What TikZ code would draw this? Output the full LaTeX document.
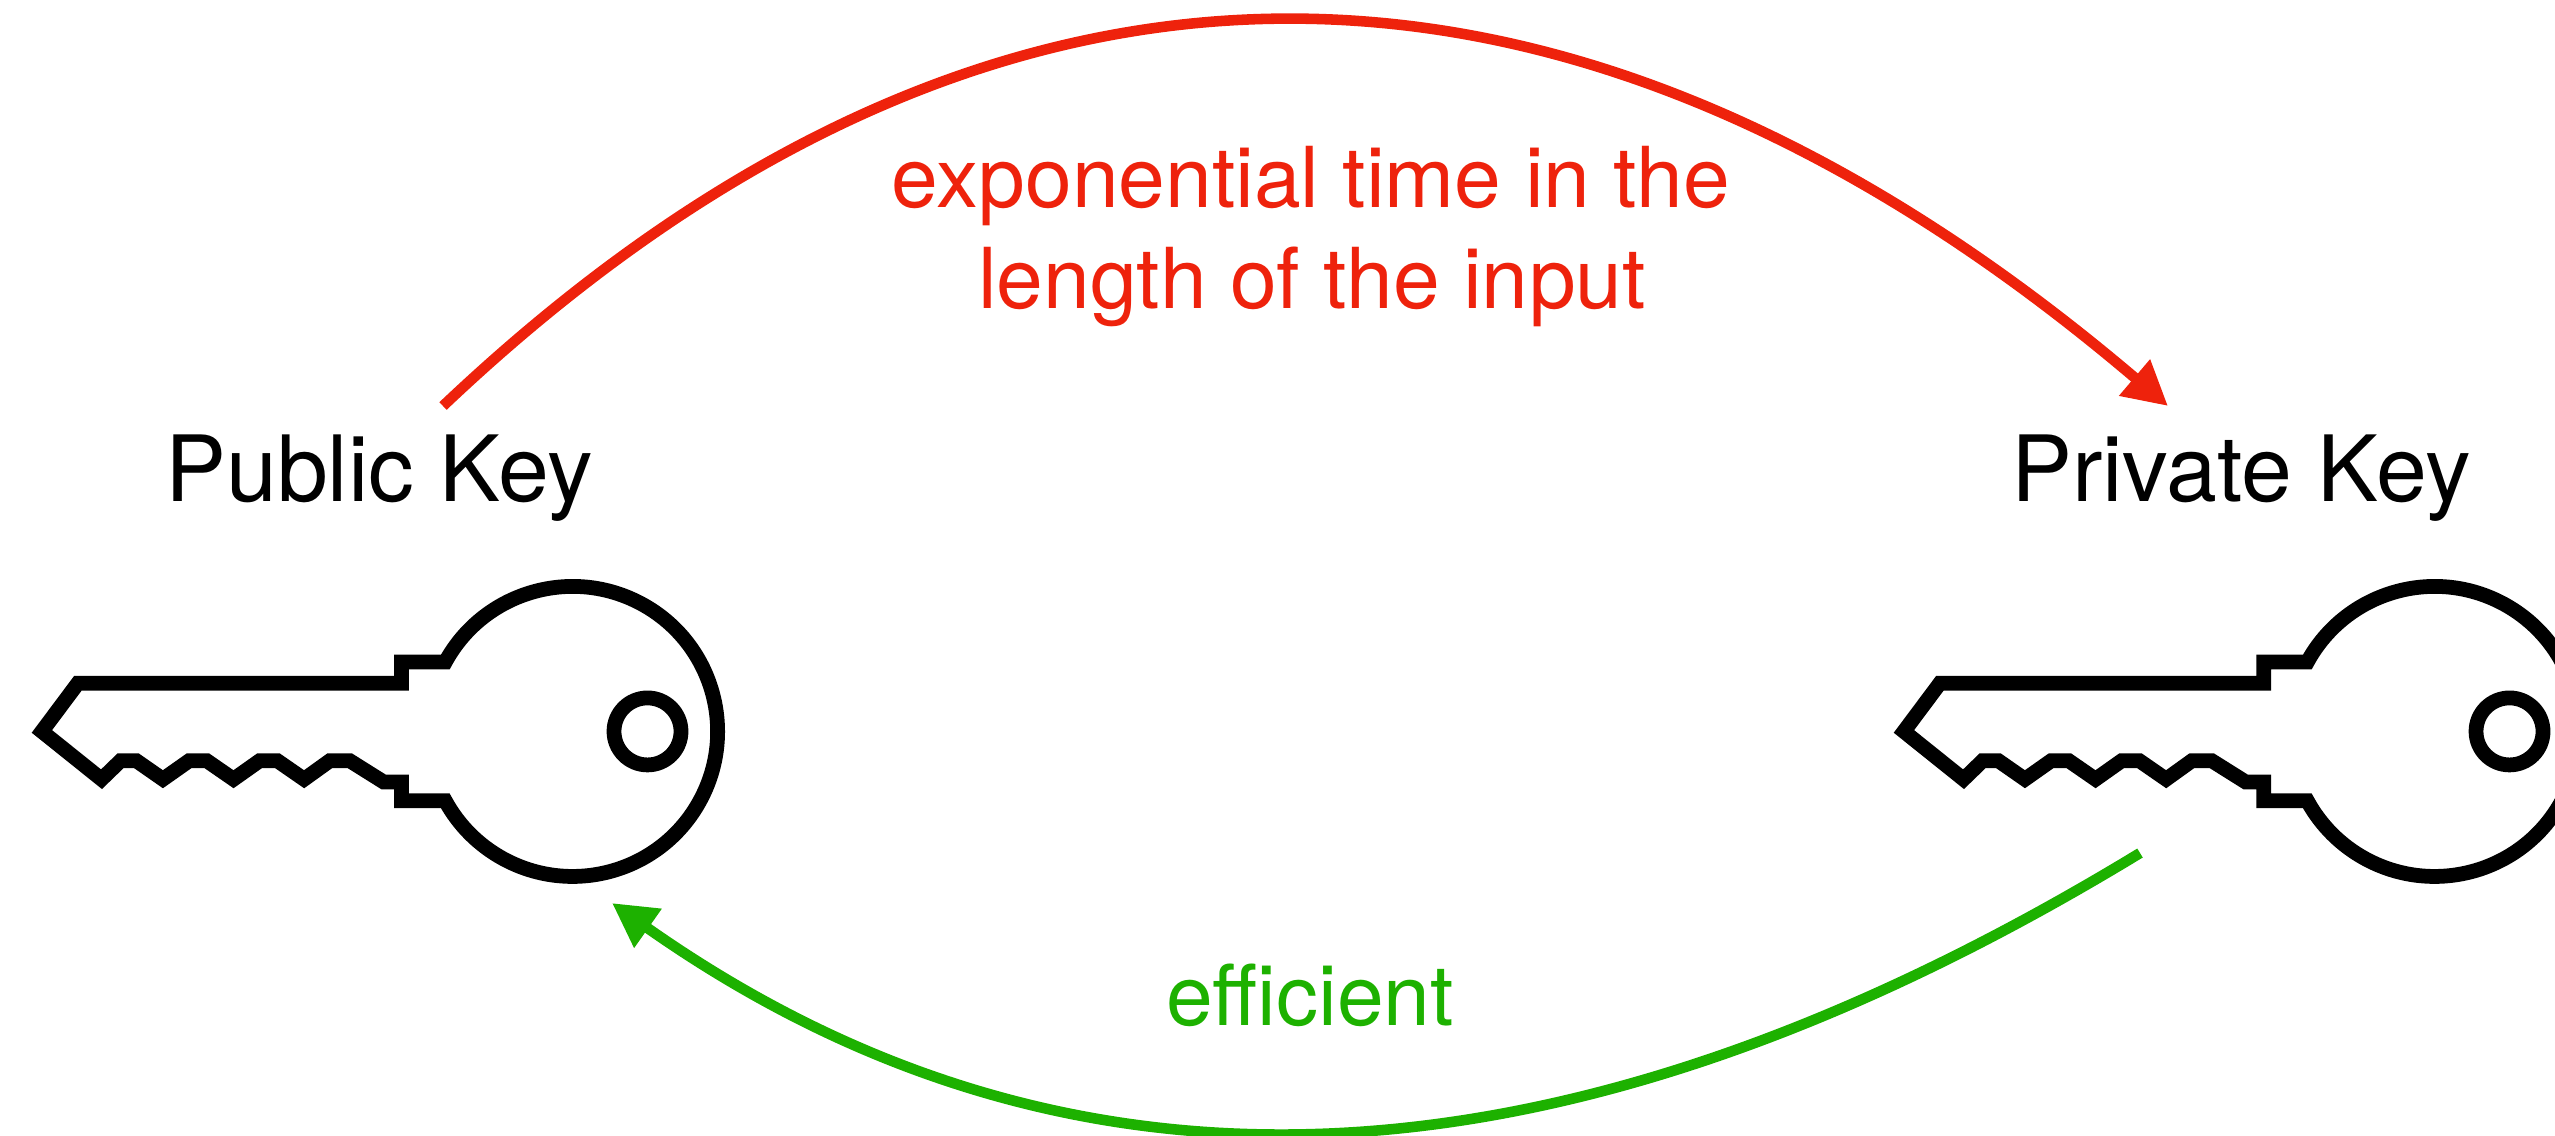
\documentclass[tikz,border=0pt]{standalone}
\usepackage{fontspec}
\setmainfont{TeX Gyre Heros}
\usetikzlibrary{arrows.meta}
\definecolor{hardred}{HTML}{EE220C}
\definecolor{easygreen}{HTML}{1DB100}
\tikzset{
  keyline/.style={line width=4.2pt,draw=black},
  keylabel/.style={font=\fontsize{26}{31}\selectfont,anchor=base,inner sep=0pt},
  arrowlabel/.style={font=\fontsize{23.9}{29}\selectfont,anchor=base,inner sep=0pt},
  hardarrow/.style={line width=3pt,draw=hardred,-{Triangle[length=4.4mm,width=4.5mm]}},
  easyarrow/.style={line width=3pt,draw=easygreen,-{Triangle[length=4.4mm,width=4.5mm]}}
}
% key outline, centre of the bow at #1
\newcommand{\drawkey}[1]{
  \draw[keyline,shift={(#1)}]
    (-530.6,0) -- (-494.6,-48.2) -- (-170.9,-48.2) -- (-170.9,-69.4) -- (-127.2,-69.4)
    arc[start angle=208.6,end angle=511.4,radius=145]
    -- (-170.9,69.4) -- (-170.9,50.6) -- (-188.8,50.6) -- (-222.6,29.4) -- (-242.8,29.4)
    -- (-268.4,47.8) -- (-295,29.4) -- (-313,29.4) -- (-339,47.8) -- (-365.6,29.4)
    -- (-383.5,29.4) -- (-409.6,47.8) -- (-436,29.4) -- (-452,29.4) -- (-471,47.8) -- cycle;
  \draw[keyline,shift={(#1)}] (75,0) circle[radius=33.5];
}
\begin{document}
\begin{tikzpicture}[x=0.01cm,y=-0.01cm]
\clip (0,0) rectangle (2555,1135);

% --- Keys ---
\drawkey{572.5,731.4}
\drawkey{2434.5,731.4}

% --- Labels ---
\node[keylabel] (publiclabel) at (379,501) {Public Key};
\node[keylabel] (privatelabel) at (2241,501) {Private Key};
\node[arrowlabel,text=hardred] (hardtopline) at (1311,207) {exponential time in the};
\node[arrowlabel,text=hardred] (hardbottomline) at (1312,308) {length of the input};
\node[arrowlabel,text=easygreen] (easylabel) at (1310,1025) {efficient};

% --- Arrow ends ---
\coordinate (publictop) at (443,406);
\coordinate (privatetop) at (2168,406);
\coordinate (privatebottom) at (2140,853);
\coordinate (publicbottom) at (612,903);

% --- Arrows ---
\draw[hardarrow] (publictop) .. controls (983,-106) and (1566,-106) .. (privatetop);
\draw[easyarrow] (privatebottom) .. controls (1545,1215) and (1055,1215) .. (publicbottom);

\end{tikzpicture}
\end{document}
